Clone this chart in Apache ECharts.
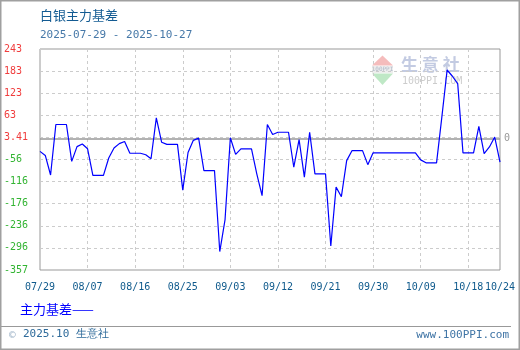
<!DOCTYPE html>
<html><head><meta charset="utf-8">
<script src="https://cdn.jsdelivr.net/npm/echarts@6/dist/echarts.min.js"></script>
<style>html,body{margin:0;padding:0;background:#fff}#c{width:520px;height:350px}</style>
</head><body><div id="c"></div>
<script>
const categories = [
 '07/29','07/30','07/31','08/01','08/02','08/03','08/04','08/05','08/06','08/07',
 '08/08','08/09','08/10','08/11','08/12','08/13','08/14','08/15','08/16','08/17',
 '08/18','08/19','08/20','08/21','08/22','08/23','08/24','08/25','08/26','08/27',
 '08/28','08/29','08/30','08/31','09/01','09/02','09/03','09/04','09/05','09/06',
 '09/07','09/08','09/09','09/10','09/11','09/12','09/13','09/14','09/15','09/16',
 '09/17','09/18','09/19','09/20','09/21','09/22','09/23','09/24','09/25','09/26',
 '09/27','09/28','09/29','09/30','10/01','10/02','10/03','10/04','10/05','10/06',
 '10/07','10/08','10/09','10/10','10/11','10/12','10/13','10/14','10/15','10/16',
 '10/17','10/18','10/19','10/20','10/21','10/22','10/23','10/24'
];
const basisValues = [
 -35,-46,-99,38,38,38,-62,-22,-15,-28,
 -100,-100,-100,-53,-26,-14,-8,-40,-40,-40,
 -44,-55,56,-10,-16,-16,-16,-140,-38,-5,
 1,-87,-87,-87,-307,-220,2,-43,-28,-28,
 -28,-96,-155,38,11,17,17,17,-78,-3,
 -105,17,-96,-96,-96,-292,-132,-158,-60,-33,
 -33,-33,-71,-39,-39,-39,-39,-39,-39,-39,
 -39,-39,-58,-66,-66,-66,58,186,169,149,
 -39,-39,-39,33,-41,-23,4,-64
];
const yTickValues = [-357,-297,-237,-177,-117,-57,3,63,123,183,243];
const yTickLabels = ['-357','-296','-236','-176','-116','-56','3.41','63','123','183','243'];
const xLabelIndexes = [0,9,18,27,36,45,54,63,72,81,87];

const chart = echarts.init(document.getElementById('c'));
const mono = '"DejaVu Sans Mono", monospace';
const cjk = '"Noto Sans CJK SC", sans-serif';
chart.setOption({
  animation: false,
  backgroundColor: '#fff',
  title: [
    {text: '白银主力基差', left: 40, top: 9, padding: 0,
     textStyle: {fontSize: 13, fontWeight: 'normal', color: '#135b92', fontFamily: cjk}},
    {text: '2025-07-29 - 2025-10-27', left: 40, top: 30, padding: 0,
     textStyle: {fontSize: 11, fontWeight: 'normal', color: '#4678a8', fontFamily: mono}}
  ],
  grid: {left: 40, right: 20, top: 49, bottom: 80, show: true, borderColor: '#999', borderWidth: 1},
  xAxis: {
    type: 'category', data: categories, boundaryGap: false,
    axisLine: {show: false}, axisTick: {show: false},
    axisLabel: {interval: (i) => xLabelIndexes.includes(i), color: '#0f5a8c', fontSize: 10, fontFamily: mono, margin: 12},
    splitLine: {show: true, lineStyle: {color: '#ccc', type: [3, 3]}}
  },
  yAxis: {
    type: 'value', min: -357, max: 243,
    axisLine: {show: false},
    axisTick: {show: false, customValues: yTickValues},
    axisLabel: {
      customValues: yTickValues, align: 'left', margin: 36, fontSize: 10, fontFamily: mono,
      formatter: (v) => { const i = yTickValues.indexOf(v); return i >= 0 ? yTickLabels[i] : ''; },
      color: (v) => (v >= 0 ? '#f03c3c' : '#32b432')
    },
    splitLine: {show: true, lineStyle: {color: '#ccc', type: [3, 3]}}
  },
  series: [{
    name: '主力基差', type: 'line', data: basisValues, showSymbol: false, z: 5,
    lineStyle: {color: '#0000ff', width: 1.2},
    markLine: {
      silent: true, symbol: 'none',
      lineStyle: {color: '#999', type: 'solid', width: 1.5},
      label: {position: 'end', formatter: '0', color: '#999', fontSize: 10, fontFamily: mono, distance: 4},
      data: [{yAxis: 0}]
    }
  }],
  graphic: [
    {type: 'rect', z: 100, shape: {x: 0.75, y: 0.75, width: 518.5, height: 348.5}, style: {fill: 'none', stroke: '#a0a0a0', lineWidth: 1.5}},
    {type: 'line', shape: {x1: 0, y1: 326.5, x2: 511, y2: 326.5}, style: {stroke: '#999', lineWidth: 1}},
    {type: 'text', left: 20, top: 303, style: {text: '主力基差——', fill: '#0000ff', font: '13px ' + cjk}},
    {type: 'text', left: 9, top: 330, style: {text: '©', fill: '#9fb4c8', font: '11px ' + mono}},
    {type: 'text', left: 23, top: 329, style: {text: '2025.10 生意社', fill: '#2d6a9a', font: '11px ' + mono}},
    {type: 'text', right: 11, top: 330, style: {text: 'www.100PPI.com', fill: '#3f74a5', font: '11px ' + mono}},
    {type: 'polygon', z: 0, shape: {points: [[372, 65.5], [393, 65.5], [382.5, 55.5]]}, style: {fill: '#f5bcbc'}},
    {type: 'rect', z: 0, shape: {x: 372, y: 66, width: 21, height: 7}, style: {fill: '#eeeeee'}},
    {type: 'text', z: 0, x: 382.5, y: 69.5, style: {text: '100PPI', fill: '#b0b8c8', font: '6px ' + mono, align: 'center', verticalAlign: 'middle'}},
    {type: 'polygon', z: 0, shape: {points: [[372, 73.5], [393, 73.5], [382.5, 85]]}, style: {fill: '#bfe8c6'}},
    {type: 'text', z: 0, x: 401, y: 65, style: {text: '生 意 社', fill: '#c3cbe2', font: 'bold 17px ' + cjk, verticalAlign: 'middle'}},
    {type: 'text', z: 0, x: 402, y: 81, style: {text: '100PPI.COM', fill: '#cccccc', font: '10px ' + mono, verticalAlign: 'middle'}}
  ]
});
</script></body></html>
